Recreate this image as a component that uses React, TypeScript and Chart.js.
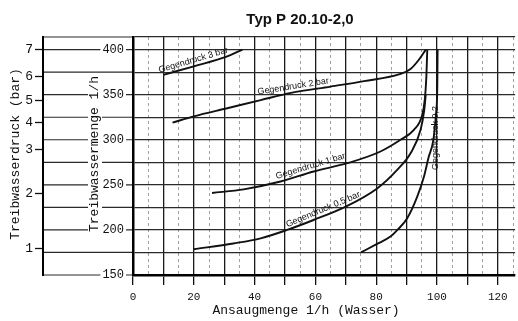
import React, { useEffect, useRef } from 'react';
import { Chart, registerables } from 'chart.js';

Chart.register(...registerables);

// ---- text ----
const chartTitle = 'Typ P 20.10-2,0';
const xAxisTitle = 'Ansaugmenge 1/h (Wasser)';
const yAxisTitle = 'Treibwassermenge 1/h';
const pAxisTitle = 'Treibwasserdruck (bar)';

// ---- axes ----
const xTickLabels = ['0', '20', '40', '60', '80', '100', '120'];
const yTickLabels = ['150', '200', '250', '300', '350', '400'];
const pressureLabels = ['1', '2', '3', '4', '5', '6', '7'];
// Treibwassermenge (1/h) that corresponds to each pressure tick
const pressureAt = [179, 240, 289, 319, 344, 370, 400];

// ---- series (x = Ansaugmenge, y = Treibwassermenge) ----
const seriesNames = ['Gegendruck 3 bar', 'Gegendruck 2 bar', 'Gegendruck 1 bar', 'Gegendruck 0,5 bar', 'Gegendruck 0,2'];

const bar3X = [10, 20, 31, 36];
const bar3Y = [372, 381.5, 392.5, 400];

const bar2X = [13, 20, 31, 42, 52, 65, 76, 88, 91.3, 94.1, 96.3];
const bar2Y = [319, 326, 335, 344, 352, 359, 365, 373, 378.5, 389, 400];

const bar1X = [26, 36.4, 48.5, 59.4, 70.5, 81.4, 88, 92.4, 95, 96, 96.5, 96.8];
const bar1Y = [241, 245, 253.7, 264.8, 274, 287, 300, 311, 326, 345, 370, 400];

const bar05X = [20, 33, 42, 50.7, 59.4, 70.5, 80.3, 86.9, 91.3, 94.6, 95.8, 96.3];
const bar05Y = [178.6, 185, 190.7, 200, 211, 226.7, 246, 266.7, 285, 311, 333, 350];

const bar02X = [75, 80, 84.7, 87, 90.2, 93.5, 95.7, 97.2, 98.8, 99.7, 100.1, 100.2];
const bar02Y = [175, 184, 192.6, 200, 213, 237, 259, 280, 300, 330, 360, 400];

// label anchors along curves (x value for sloped labels, y value for the vertical one)
const labelAnchorX = [20.4, 53, 59, 63.3];
const label02AnchorY = 302;

const seriesX = [bar3X, bar2X, bar1X, bar05X, bar02X];
const seriesY = [bar3Y, bar2Y, bar1Y, bar05Y, bar02Y];

const MONO = '"Liberation Mono", "DejaVu Sans Mono", monospace';
const SANS = '"Liberation Sans", Arial, sans-serif';

function curvePointAtX(pts: { x: number; y: number }[], px: number) {
  for (let k = 0; k < pts.length - 1; k++) {
    const a = pts[k], b = pts[k + 1];
    if (px >= a.x && px <= b.x) {
      const t = (px - a.x) / (b.x - a.x || 1);
      return { x: px, y: a.y + t * (b.y - a.y), ang: Math.atan2(b.y - a.y, b.x - a.x) };
    }
  }
  return null;
}
function curvePointAtY(pts: { x: number; y: number }[], py: number) {
  for (let k = 0; k < pts.length - 1; k++) {
    const a = pts[k], b = pts[k + 1];
    if ((py <= a.y && py >= b.y) || (py >= a.y && py <= b.y)) {
      const t = (py - a.y) / (b.y - a.y || 1);
      return { x: a.x + t * (b.x - a.x), y: py };
    }
  }
  return null;
}

const decorPlugin = {
  id: 'decor',
  beforeDraw(chart: any) {
    const { ctx } = chart;
    const yS = chart.scales.y;
    const pS = chart.scales.yP;
    ctx.save();
    ctx.strokeStyle = '#2a2a2a';
    ctx.lineWidth = 1.2;
    yS.ticks.forEach((t: any) => {
      const py = yS.getPixelForValue(t.value);
      ctx.beginPath();
      ctx.moveTo(pS.right, py);
      ctx.lineTo(yS.right, py);
      ctx.stroke();
    });
    ctx.restore();
  },
  afterDatasetsDraw(chart: any) {
    const { ctx } = chart;
    ctx.save();
    ctx.fillStyle = '#111';
    ctx.font = `9px ${SANS}`;
    for (let i = 0; i < 4; i++) {
      const meta = chart.getDatasetMeta(i);
      const pts = meta.data.map((p: any) => ({ x: p.x, y: p.y }));
      const px = chart.scales.x.getPixelForValue(labelAnchorX[i]);
      const c = curvePointAtX(pts, px);
      if (!c) continue;
      ctx.save();
      ctx.translate(c.x, c.y);
      ctx.rotate(c.ang);
      ctx.textAlign = 'center';
      ctx.textBaseline = 'bottom';
      ctx.fillText(seriesNames[i], 0, -1.5);
      ctx.restore();
    }
    // vertical label for 0,2
    const meta = chart.getDatasetMeta(4);
    const pts = meta.data.map((p: any) => ({ x: p.x, y: p.y }));
    const py = chart.scales.y.getPixelForValue(label02AnchorY);
    const c = curvePointAtY(pts, py);
    if (c) {
      ctx.save();
      ctx.translate(c.x + 2, c.y);
      ctx.rotate(-Math.PI / 2);
      ctx.textAlign = 'center';
      ctx.textBaseline = 'middle';
      ctx.fillText(seriesNames[4], 0, 0);
      ctx.restore();
    }
    ctx.restore();
  },
  afterDraw(chart: any) {
    const { ctx, chartArea } = chart;
    const yS = chart.scales.y;
    const pS = chart.scales.yP;
    const midY = (chartArea.top + chartArea.bottom) / 2 - 2;
    ctx.save();
    // chart title
    ctx.fillStyle = '#111';
    ctx.font = `bold 15px ${SANS}`;
    ctx.textAlign = 'center';
    ctx.textBaseline = 'middle';
    ctx.fillText(chartTitle, 300, 20);

    ctx.font = `13px ${MONO}`;
    // x title
    ctx.fillText(xAxisTitle, 306, 311);

    // inner y title with white backdrop
    const w = ctx.measureText(yAxisTitle).width;
    ctx.save();
    ctx.translate(yS.right - 38, midY);
    ctx.rotate(-Math.PI / 2);
    ctx.fillStyle = '#fff';
    ctx.fillRect(-w / 2 - 3, -7, w + 6, 14);
    ctx.fillStyle = '#111';
    ctx.fillText(yAxisTitle, 0, 0);
    ctx.restore();

    // outer pressure title
    ctx.save();
    ctx.translate(pS.left + 16, midY);
    ctx.rotate(-Math.PI / 2);
    ctx.fillText(pAxisTitle, 0, 0);
    ctx.restore();
    ctx.restore();
  },
};

export default function App() {
  const canvasRef = useRef<HTMLCanvasElement | null>(null);

  useEffect(() => {
    const canvas = canvasRef.current;
    if (!canvas) return;
    const datasets = seriesNames.map((name, i) => ({
      label: name,
      data: seriesX[i].map((x, k) => ({ x, y: seriesY[i][k] })),
      borderColor: '#111',
      borderWidth: 1.9,
      pointRadius: 0,
      fill: false,
      cubicInterpolationMode: 'monotone' as const,
      yAxisID: 'y',
      xAxisID: 'x',
    }));

    const chart = new Chart(canvas, {
      type: 'line',
      data: { datasets },
      plugins: [decorPlugin],
      options: {
        responsive: false,
        animation: false,
        devicePixelRatio: 1,
        layout: { padding: { top: 37, left: 0, right: 0, bottom: 0 } },
        plugins: { legend: { display: false }, tooltip: { enabled: false }, title: { display: false } },
        scales: {
          x: {
            type: 'linear',
            position: 'bottom',
            bounds: 'data',
            min: 0,
            max: 125.7,
            afterFit: (s: any) => { s.height = 46; },
            ticks: {
              stepSize: 5,
              includeBounds: false,
              autoSkip: false,
              maxRotation: 0,
              padding: 5,
              color: '#111',
              font: { family: MONO, size: 11 },
              callback: (v: any) => (xTickLabels.includes(String(v)) ? String(v) : ''),
            },
            grid: {
              color: (c: any) => (c.tick && c.tick.value % 10 === 0 ? '#1a1a1a' : '#a0a0a0'),
              lineWidth: (c: any) => (c.tick && c.tick.value % 10 === 0 ? 1.3 : 1),
              tickLength: 10,
              tickColor: (c: any) => (c.tick && c.tick.value % 10 === 0 ? '#111' : 'rgba(0,0,0,0)'),
              tickWidth: 1.3,
            },
            border: {
              display: true,
              color: '#000',
              width: 2.5,
              dash: (c: any) => (c.tick && c.tick.value % 10 !== 0 ? [3, 3] : []),
            },
          },
          y: {
            type: 'linear',
            position: 'left',
            bounds: 'data',
            weight: 0,
            min: 150,
            max: 414,
            afterFit: (s: any) => { s.width = 90; },
            ticks: {
              stepSize: 25,
              includeBounds: false,
              autoSkip: false,
              padding: 9,
              color: '#111',
              font: { family: MONO, size: 12 },
              callback: (v: any) => (yTickLabels.includes(String(v)) ? String(v) : ''),
              showLabelBackdrop: (c: any) => !!c.tick && yTickLabels.includes(String(c.tick.value)),
              backdropColor: '#fff',
              backdropPadding: { x: 2, y: 0 },
            },
            grid: { color: '#2a2a2a', lineWidth: 1.2, drawTicks: false },
            border: { display: true, color: '#000', width: 2.5 },
          },
          yP: {
            type: 'linear',
            position: 'left',
            bounds: 'data',
            weight: 1,
            min: 150,
            max: 414,
            afterFit: (s: any) => { s.width = 43; },
            afterBuildTicks: (s: any) => { s.ticks = pressureAt.map((v) => ({ value: v })); },
            ticks: {
              autoSkip: false,
              padding: 2,
              color: '#111',
              font: { family: MONO, size: 13 },
              callback: (_v: any, i: number) => pressureLabels[i],
            },
            grid: { drawOnChartArea: false, drawTicks: true, tickLength: 8, tickColor: '#111', tickWidth: 1.3 },
            border: { display: true, color: '#000', width: 2 },
          },
        },
      } as any,
    });
    return () => chart.destroy();
  }, []);

  return (
    <div style={{ position: 'fixed', left: 0, top: 0, width: 518, height: 321, background: '#fff' }}>
      <canvas ref={canvasRef} width={518} height={321} style={{ display: 'block', width: 518, height: 321 }} />
    </div>
  );
}
